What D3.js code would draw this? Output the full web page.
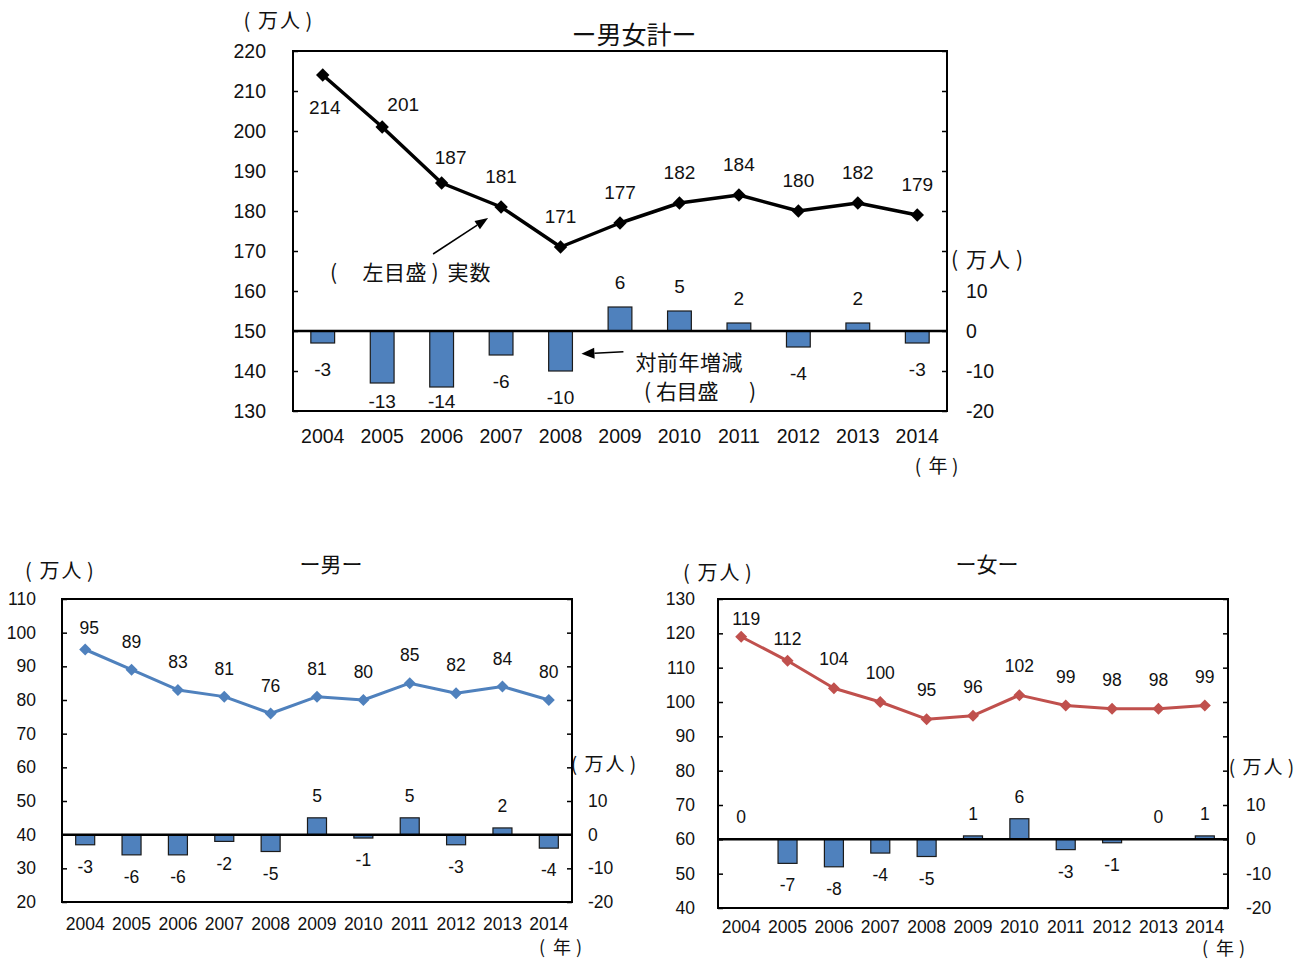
<!DOCTYPE html>
<html lang="ja">
<head>
<meta charset="utf-8">
<script src="https://cdn.jsdelivr.net/npm/d3@7"></script>
<style>
  html, body { margin: 0; padding: 0; background: #fff; }
  svg { display: block; }
</style>
</head>
<body>
<svg id="chart" width="1305" height="959"></svg>
<script>
// Years on the category axis
const years = ['2004', '2005', '2006', '2007', '2008', '2009', '2010', '2011', '2012', '2013', '2014'];

// 男女計: actual count (left axis) and change from previous year (right axis), 万人
const totalValues = [214, 201, 187, 181, 171, 177, 182, 184, 180, 182, 179];
const totalChange = [-3, -13, -14, -6, -10, 6, 5, 2, -4, 2, -3];

// 男
const maleValues = [95, 89, 83, 81, 76, 81, 80, 85, 82, 84, 80];
const maleChange = [-3, -6, -6, -2, -5, 5, -1, 5, -3, 2, -4];

// 女
const femaleValues = [119, 112, 104, 100, 95, 96, 102, 99, 98, 98, 99];
const femaleChange = [0, -7, -8, -4, -5, 1, 6, -3, -1, 0, 1];

// Axis tick labels
const totalLeftTicks = [130, 140, 150, 160, 170, 180, 190, 200, 210, 220];
const maleLeftTicks = [20, 30, 40, 50, 60, 70, 80, 90, 100, 110];
const femaleLeftTicks = [40, 50, 60, 70, 80, 90, 100, 110, 120, 130];
const rightTickLabels = [-20, -10, 0, 10];
const rightTickMarks = [-20, -10, 0, 10, 20, 30, 40, 50, 60, 70];

// Unit captions, drawn glyph by glyph in loose (fixed-pitch) spacing
const unitChars = ['(', '万', '人', ')'];
const unitPitch = [-31, -10, 12, 31];
const yearChars = ['(', '年', ')'];
const yearPitch = [-21, 0, 18];

const NUM_FONT = "'Liberation Sans', Arial, Helvetica, sans-serif";
const CJK_FONT = "'Noto Sans CJK JP', 'Noto Sans CJK SC', sans-serif";
const BAR_FILL = '#4f81bd';

const svg = d3.select('#chart');

function label(g, x, y, str, size, opts = {}) {
  return g.append('text')
    .attr('x', x)
    .attr('y', y)
    .attr('dy', '0.35em')
    .attr('text-anchor', opts.anchor || 'middle')
    .attr('font-family', opts.font || NUM_FONT)
    .attr('font-size', size)
    .attr('fill', '#111')
    .text(str);
}

// text laid out with one glyph per cell; xs are the cell centres
function spaced(g, xs, y, chars, size) {
  const t = g.append('text')
    .attr('y', y)
    .attr('dy', '0.35em')
    .attr('text-anchor', 'middle')
    .attr('font-family', CJK_FONT)
    .attr('font-size', size)
    .attr('fill', '#111');
  chars.forEach((c, i) => t.append('tspan').attr('x', xs[i]).text(c));
  return t;
}

function unitText(g, cx, cy, size) {
  spaced(g, unitPitch.map(o => cx + o * size / 20), cy, unitChars, size);
}

function drawPanel(cfg) {
  const g = svg.append('g');
  const x = d3.scaleBand().domain(years).range([cfg.left, cfg.right]).padding(0);
  const yL = d3.scaleLinear().domain(cfg.leftDomain).range([cfg.bottom, cfg.top]);
  const yR = d3.scaleLinear().domain([-20, 70]).range([cfg.bottom, cfg.top]);
  const cx = d => x(d) + x.bandwidth() / 2;
  const barW = x.bandwidth() * cfg.barRatio;

  // change bars (right axis)
  const barData = years.map((yr, i) => ({ yr, v: cfg.changes[i] }));
  g.append('g').selectAll('rect')
    .data(barData.filter(d => d.v !== 0))
    .join('rect')
    .attr('x', d => cx(d.yr) - barW / 2)
    .attr('y', d => yR(Math.max(0, d.v)))
    .attr('width', barW)
    .attr('height', d => Math.abs(yR(d.v) - yR(0)))
    .attr('fill', BAR_FILL)
    .attr('stroke', '#1b1b1b')
    .attr('stroke-width', 1.2);

  // bar value labels
  g.append('g').selectAll('text')
    .data(barData)
    .join('text')
    .attr('x', d => cx(d.yr))
    .attr('y', d => d.v >= 0
      ? yR(d.v) - cfg.barGap
      : Math.min(yR(d.v) + cfg.barGapNeg, cfg.bottom - 10))
    .attr('dy', '0.35em')
    .attr('text-anchor', 'middle')
    .attr('font-family', NUM_FONT)
    .attr('font-size', cfg.fontSize)
    .attr('fill', '#111')
    .text(d => d.v);

  // plot frame
  g.append('rect')
    .attr('x', cfg.left).attr('y', cfg.top)
    .attr('width', cfg.right - cfg.left).attr('height', cfg.bottom - cfg.top)
    .attr('fill', 'none').attr('stroke', '#000').attr('stroke-width', 2);

  // zero line of the change bars
  g.append('line')
    .attr('x1', cfg.left).attr('x2', cfg.right)
    .attr('y1', yR(0)).attr('y2', yR(0))
    .attr('stroke', '#000').attr('stroke-width', 2.5);

  // left axis: inner ticks + labels
  const leftAxis = d3.axisRight(yL).tickValues(cfg.leftTicks).tickSize(5).tickFormat('');
  g.append('g').attr('transform', `translate(${cfg.left},0)`).call(leftAxis)
    .call(s => s.select('.domain').remove())
    .call(s => s.selectAll('.tick line').attr('stroke', '#000').attr('stroke-width', 1.5));
  cfg.leftTicks.forEach(t => label(g, cfg.leftLabelX, yL(t), t, cfg.tickSize, { anchor: 'end' }));

  // right axis: inner ticks + labels
  const rightAxis = d3.axisLeft(yR).tickValues(rightTickMarks).tickSize(5).tickFormat('');
  g.append('g').attr('transform', `translate(${cfg.right},0)`).call(rightAxis)
    .call(s => s.select('.domain').remove())
    .call(s => s.selectAll('.tick line').attr('stroke', '#000').attr('stroke-width', 1.5));
  rightTickLabels.forEach(t => label(g, cfg.rightLabelX, yR(t), t, cfg.tickSize, { anchor: 'start' }));

  // category labels
  years.forEach(yr => label(g, cx(yr), cfg.bottom + cfg.xLabelGap, yr, cfg.tickSize));

  // actual count line (left axis)
  const pts = years.map((yr, i) => ({ yr, v: cfg.values[i] }));
  g.append('path')
    .datum(pts)
    .attr('fill', 'none')
    .attr('stroke', cfg.lineColor)
    .attr('stroke-width', cfg.lineWidth)
    .attr('stroke-linejoin', 'round')
    .attr('d', d3.line().x(d => cx(d.yr)).y(d => yL(d.v)));

  const diamond = d3.symbol().type(d3.symbolSquare).size(cfg.markerArea);
  g.append('g').selectAll('path')
    .data(pts)
    .join('path')
    .attr('transform', d => `translate(${cx(d.yr)},${yL(d.v)}) rotate(45)`)
    .attr('d', diamond)
    .attr('fill', cfg.lineColor);

  g.append('g').selectAll('text')
    .data(pts)
    .join('text')
    .attr('x', d => cx(d.yr) + ((cfg.nudge[d.yr] || {}).dx || 0))
    .attr('y', d => yL(d.v) + ((cfg.nudge[d.yr] || {}).dy ?? cfg.lineLabelDy))
    .attr('dy', '0.35em')
    .attr('text-anchor', 'middle')
    .attr('font-family', NUM_FONT)
    .attr('font-size', cfg.fontSize)
    .attr('fill', '#111')
    .text(d => d.v);

  // title and unit captions
  label(g, (cfg.left + cfg.right) / 2 + 14, cfg.titleY, cfg.title, cfg.titleSize, { font: CJK_FONT });
  unitText(g, cfg.unitLeft[0], cfg.unitLeft[1], 20);
  unitText(g, cfg.right + cfg.unitRight[0], yR(20) + cfg.unitRight[1], cfg.unitRightSize);
  spaced(g, yearPitch.map(o => cfg.right + cfg.yearUnit[0] + o * 0.95), cfg.yearUnit[1], yearChars, cfg.yearUnit[2]);

  return { g, x, yL, yR, cx, barW };
}

function arrow(g, tailX, tailY, tipX, tipY, len, half) {
  const ang = Math.atan2(tipY - tailY, tipX - tailX);
  const bx = tipX - len * Math.cos(ang), by = tipY - len * Math.sin(ang);
  g.append('line')
    .attr('x1', tailX).attr('y1', tailY).attr('x2', bx).attr('y2', by)
    .attr('stroke', '#000').attr('stroke-width', 1.5);
  g.append('path')
    .attr('d', `M${tipX},${tipY}L${bx - half * Math.sin(ang)},${by + half * Math.cos(ang)}L${bx + half * Math.sin(ang)},${by - half * Math.cos(ang)}Z`)
    .attr('fill', '#000');
}

// 男女計
const totalPanel = drawPanel({
  left: 293, right: 947, top: 51, bottom: 411,
  leftDomain: [130, 220], leftTicks: totalLeftTicks,
  values: totalValues, changes: totalChange,
  lineColor: '#000', lineWidth: 3.5, markerArea: 90,
  barRatio: 0.40, barGap: 25, barGapNeg: 26,
  fontSize: 19, tickSize: 19.5,
  leftLabelX: 266, rightLabelX: 966, xLabelGap: 25,
  lineLabelDy: -31,
  nudge: { '2004': { dx: 2, dy: 32 }, '2005': { dx: 21, dy: -23 }, '2006': { dx: 9, dy: -26 } },
  title: 'ー男女計ー', titleY: 35, titleSize: 25,
  unitLeft: [278, 21], unitRight: [40, 9], unitRightSize: 21,
  yearUnit: [-9, 466, 19]
});

// annotation: 実数 (left axis)
{
  const p = totalPanel;
  const tipX = p.cx('2007') - 13, tipY = p.yL(181) + 11;
  arrow(p.g, tipX - 55, tipY + 36, tipX, tipY, 13, 5);
  spaced(p.g, [333.5, 373, 394.5, 416, 435, 458, 480], 273,
    ['(', '左', '目', '盛', ')', '実', '数'], 21);
}

// annotation: 対前年増減 (right axis)
{
  const p = totalPanel;
  const tipX = p.cx('2008') + p.barW / 2 + 9, tipY = p.yR(-5.7);
  arrow(p.g, tipX + 42, tipY - 2, tipX, tipY, 13, 5.5);
  spaced(p.g, [646, 667.5, 689, 710.5, 732], 363, ['対', '前', '年', '増', '減'], 21);
  spaced(p.g, [647.5, 666.5, 687, 708, 752.5], 392, ['(', '右', '目', '盛', ')'], 21);
}

// 男
drawPanel({
  left: 62, right: 572, top: 599, bottom: 902,
  leftDomain: [20, 110], leftTicks: maleLeftTicks,
  values: maleValues, changes: maleChange,
  lineColor: '#4f81bd', lineWidth: 3, markerArea: 72,
  barRatio: 0.41, barGap: 22, barGapNeg: 22,
  fontSize: 17.5, tickSize: 17.5,
  leftLabelX: 36, rightLabelX: 588, xLabelGap: 22,
  lineLabelDy: -28,
  nudge: { '2004': { dx: 4, dy: -22 } },
  title: 'ー男ー', titleY: 565, titleSize: 21,
  unitLeft: [59.5, 571], unitRight: [31.5, -3], unitRightSize: 19,
  yearUnit: [-10, 948, 18]
});

// 女
drawPanel({
  left: 718, right: 1228, top: 599, bottom: 908,
  leftDomain: [40, 130], leftTicks: femaleLeftTicks,
  values: femaleValues, changes: femaleChange,
  lineColor: '#c0504d', lineWidth: 3, markerArea: 72,
  barRatio: 0.41, barGap: 22, barGapNeg: 22,
  fontSize: 17.5, tickSize: 17.5,
  leftLabelX: 695, rightLabelX: 1246, xLabelGap: 19,
  lineLabelDy: -29,
  nudge: { '2004': { dx: 5, dy: -18 }, '2005': { dx: 0, dy: -22 } },
  title: 'ー女ー', titleY: 565, titleSize: 21,
  unitLeft: [717.5, 573], unitRight: [33.5, -3], unitRightSize: 19,
  yearUnit: [-3, 949, 18]
});
</script>
</body>
</html>
